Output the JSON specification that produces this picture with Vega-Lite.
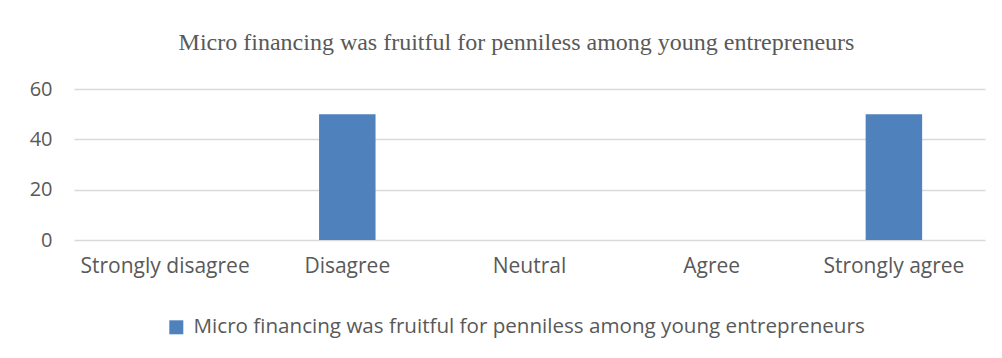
{
  "$schema": "https://vega.github.io/schema/vega-lite/v6.json",
  "autosize": "none",
  "width": 911,
  "height": 151,
  "padding": {"left": 74, "top": 89, "right": 17, "bottom": 118},
  "background": "white",
  "title": {
    "text": "Micro financing was fruitful for penniless among young entrepreneurs",
    "font": "Liberation Serif",
    "fontSize": 24,
    "fontWeight": "normal",
    "color": "#595959",
    "anchor": "middle",
    "baseline": "alphabetic",
    "dx": -13,
    "offset": 5
  },
  "data": {
    "values": [
      {"category": "Strongly disagree", "value": 0, "series": "Micro financing was fruitful for penniless among young entrepreneurs"},
      {"category": "Disagree", "value": 50, "series": "Micro financing was fruitful for penniless among young entrepreneurs"},
      {"category": "Neutral", "value": 0, "series": "Micro financing was fruitful for penniless among young entrepreneurs"},
      {"category": "Agree", "value": 0, "series": "Micro financing was fruitful for penniless among young entrepreneurs"},
      {"category": "Strongly agree", "value": 50, "series": "Micro financing was fruitful for penniless among young entrepreneurs"}
    ]
  },
  "mark": {"type": "bar"},
  "encoding": {
    "x": {
      "field": "category",
      "type": "nominal",
      "sort": null,
      "scale": {"paddingInner": 0.69, "paddingOuter": 0.345},
      "axis": {
        "title": null,
        "labelAngle": 0,
        "labelFont": "Open Sans",
        "labelFontSize": 21,
        "labelColor": "#595959",
        "labelBaseline": "alphabetic",
        "labelPadding": 32,
        "ticks": false,
        "domain": false,
        "grid": false
      }
    },
    "y": {
      "field": "value",
      "type": "quantitative",
      "scale": {"domain": [0, 60], "nice": false},
      "axis": {
        "title": null,
        "values": [0, 20, 40, 60],
        "labelFont": "Open Sans",
        "labelFontSize": 20,
        "labelColor": "#595959",
        "labelPadding": 22,
        "ticks": false,
        "domain": false,
        "grid": true,
        "gridColor": "#d9d9d9",
        "gridWidth": 1.5
      }
    },
    "color": {
      "field": "series",
      "type": "nominal",
      "scale": {"range": ["#4f81bd"]},
      "legend": {
        "title": null,
        "orient": "none",
        "legendX": 92,
        "legendY": 228,
        "padding": 0,
        "symbolType": "square",
        "symbolSize": 196,
        "symbolStrokeWidth": 0,
        "labelFont": "Open Sans",
        "labelFontSize": 20.6,
        "labelColor": "#595959",
        "labelOffset": 7,
        "labelLimit": 1000
      }
    }
  },
  "config": {"view": {"stroke": null}}
}
